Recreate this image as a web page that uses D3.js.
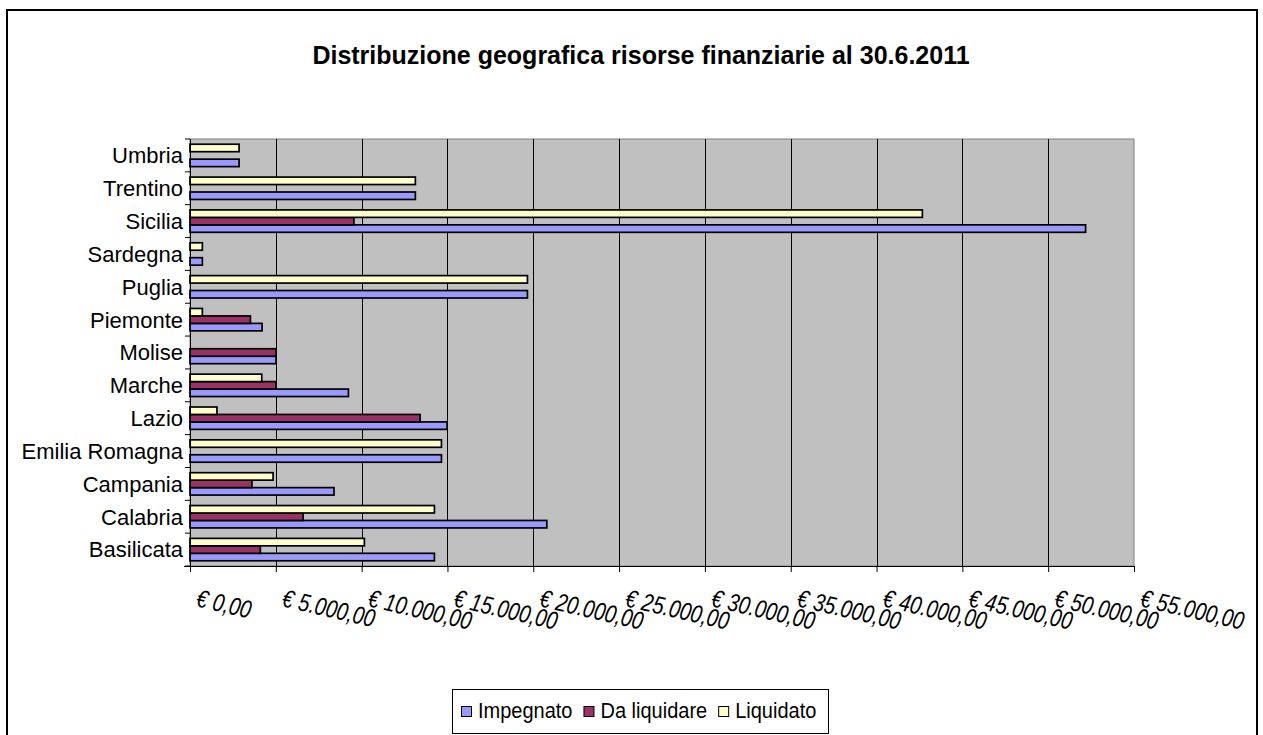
<!DOCTYPE html>
<html>
<head>
	<meta charset="utf-8">
	<script src="https://d3js.org/d3.v7.min.js"></script>
	<style type="text/css">
		body { margin: 0; background: #fff; }
		text { font-family: Arial, "Liberation Sans", sans-serif; fill: #000; }
		.title { font-size: 25px; font-weight: bold; }
		.cat text { font-size: 22px; }
		.val text { font-size: 20px; font-style: italic; }
		.legend text { font-size: 20px; }
	</style>
</head>
<body>
	<script type="text/javascript">
		// data (euro), regions listed bottom to top as in the chart
		let regioni = ["Basilicata", "Calabria", "Campania", "Emilia Romagna", "Lazio", "Marche",
			"Molise", "Piemonte", "Puglia", "Sardegna", "Sicilia", "Trentino", "Umbria"];
		let serie = ["Impegnato", "Da liquidare", "Liquidato"];
		let impegnato   = [14240, 20790, 8390, 14650, 14980, 9230, 5010, 4200, 19660, 720, 52180, 13130, 2860];
		let daLiquidare = [4100, 6590, 3610, 0, 13410, 5010, 5010, 3520, 0, 0, 9550, 0, 0];
		let liquidato   = [10160, 14240, 4840, 14650, 1570, 4180, 0, 720, 19660, 720, 42670, 13130, 2860];
		let tickValues = [0, 5000, 10000, 15000, 20000, 25000, 30000, 35000, 40000, 45000, 50000, 55000];
		let tickLabels = ["€ 0,00", "€ 5.000,00", "€ 10.000,00", "€ 15.000,00", "€ 20.000,00", "€ 25.000,00",
			"€ 30.000,00", "€ 35.000,00", "€ 40.000,00", "€ 45.000,00", "€ 50.000,00", "€ 55.000,00"];
		let colori = ["#9999ff", "#993366", "#ffffcc"];
	</script>
	<script type="text/javascript">
		let w = 1263, h = 735;
		let pLeft = 190, pRight = 1134, pTop = 139, pBottom = 566;

		let svg = d3.select("body").append("svg")
			.attr("width", w)
			.attr("height", h);

		// outer frame
		svg.append("rect")
			.attr("x", 7).attr("y", 10)
			.attr("width", 1250).attr("height", 760)
			.attr("fill", "#fff").attr("stroke", "#000").attr("stroke-width", 2);

		svg.append("text")
			.attr("class", "title")
			.attr("x", 641).attr("y", 64)
			.attr("text-anchor", "middle")
			.text("Distribuzione geografica risorse finanziarie al 30.6.2011");

		let x = d3.scaleLinear().domain([0, 55000]).range([pLeft, pRight]);
		let y = d3.scaleBand().domain(regioni).range([pBottom, pTop]);
		// bars inside a band: Liquidato on top, Impegnato at the bottom
		let yi = d3.scaleBand().domain(["Liquidato", "Da liquidare", "Impegnato"])
			.range([0, y.bandwidth()]).paddingOuter(0.7);

		// plot area
		svg.append("rect")
			.attr("x", pLeft).attr("y", pTop)
			.attr("width", pRight - pLeft).attr("height", pBottom - pTop)
			.attr("fill", "#c0c0c0").attr("stroke", "#808080").attr("stroke-width", 1);

		// grid
		svg.append("g").selectAll("line").data(tickValues.slice(1, -1)).enter()
			.append("line")
			.attr("x1", d => Math.round(x(d)) + 0.5).attr("x2", d => Math.round(x(d)) + 0.5)
			.attr("y1", pTop).attr("y2", pBottom)
			.attr("stroke", "#000").attr("stroke-width", 1);

		// bars
		let valori = [impegnato, daLiquidare, liquidato];
		let barre = [];
		serie.forEach((s, k) => regioni.forEach((r, i) => {
			if (valori[k][i] > 0) barre.push({ serie: s, regione: r, valore: valori[k][i], colore: colori[k] });
		}));
		svg.append("g").selectAll("rect").data(barre).enter()
			.append("rect")
			.attr("x", x(0))
			.attr("y", d => y(d.regione) + yi(d.serie))
			.attr("width", d => x(d.valore) - x(0))
			.attr("height", yi.bandwidth())
			.attr("fill", d => d.colore)
			.attr("stroke", "#000").attr("stroke-width", 1.7);

		// x axis
		let xAxis = svg.append("g")
			.attr("transform", "translate(0," + pBottom + ")")
			.call(d3.axisBottom(x).tickValues(tickValues).tickSize(6).tickFormat(""));
		xAxis.selectAll("line,path").attr("stroke", "#000");
		xAxis.select(".domain").attr("d", "M" + (pLeft - 6) + ",0.5H" + pRight);

		svg.append("g").attr("class", "val").selectAll("text").data(tickValues).enter()
			.append("text")
			.attr("transform", (d) => "translate(" + (x(d) + 5) + ",606) rotate(13) scale(1,1.25)")
			.text((d, i) => tickLabels[i]);

		// y axis
		let yAxis = svg.append("g")
			.attr("transform", "translate(" + pLeft + ",0)")
			.call(d3.axisLeft(y).tickSize(0).tickFormat(""));
		yAxis.select(".domain").attr("stroke", "#000").attr("d", "M0.5," + pTop + "V" + pBottom);
		svg.append("g").selectAll("line").data(d3.range(regioni.length + 1)).enter()
			.append("line")
			.attr("x1", pLeft - 5).attr("x2", pLeft)
			.attr("y1", i => pBottom - i * y.step()).attr("y2", i => pBottom - i * y.step())
			.attr("stroke", "#000");

		svg.append("g").attr("class", "cat").selectAll("text").data(regioni).enter()
			.append("text")
			.attr("x", 183)
			.attr("y", d => y(d) + y.bandwidth() / 2)
			.attr("dy", "0.36em")
			.attr("text-anchor", "end")
			.text(d => d);

		// legend
		let leg = svg.append("g").attr("class", "legend");
		leg.append("rect")
			.attr("x", 452.5).attr("y", 689.5).attr("width", 376).attr("height", 44)
			.attr("fill", "#fff").attr("stroke", "#000").attr("stroke-width", 1);
		let lx = 461;
		serie.forEach((s, k) => {
			leg.append("rect")
				.attr("x", lx + 0.5).attr("y", 706.5).attr("width", 10).attr("height", 10)
				.attr("fill", colori[k]).attr("stroke", "#000").attr("stroke-width", 1);
			let t = leg.append("text").attr("x", lx + 17).attr("y", 718)
				.attr("transform", "translate(0,-71.8) scale(1,1.1)")
				.text(s);
			lx += 17 + t.node().getComputedTextLength() + 11;
		});
	</script>
</body>
</html>
